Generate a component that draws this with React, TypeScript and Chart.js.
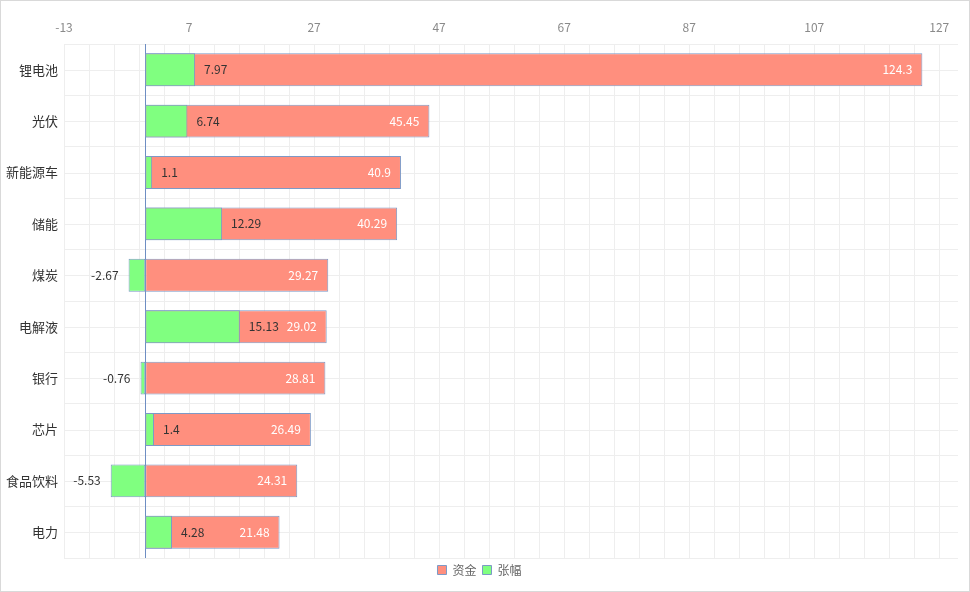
import React, { useEffect, useRef } from "react";
import { Chart, registerables } from "chart.js";

Chart.register(...registerables);

const CATEGORIES = ["锂电池", "光伏", "新能源车", "储能", "煤炭", "电解液", "银行", "芯片", "食品饮料", "电力"];
const FUNDS = [124.3, 45.45, 40.9, 40.29, 29.27, 29.02, 28.81, 26.49, 24.31, 21.48];
const CHANGES = [7.97, 6.74, 1.1, 12.29, -2.67, 15.13, -0.76, 1.4, -5.53, 4.28];
const TICK_LABELS = [-13, 7, 27, 47, 67, 87, 107, 127];
const AXIS_MIN = -13;
const AXIS_MAX = 130;
const MINOR_STEP = 4;

const FONT = "'Noto Sans CJK SC', 'Noto Sans', sans-serif";
const RED = "#FF8F7E";
const GREEN = "#80FF80";
const BORDER = "#7D99C6";
const GRID = "#EEEEEE";

const extrasPlugin = {
  id: "extras",
  beforeDatasetsDraw(chart: any) {
    const { ctx, chartArea, scales } = chart;
    const y = scales.y;
    const x = scales.x;
    ctx.save();
    ctx.strokeStyle = GRID;
    ctx.lineWidth = 1;
    for (let i = 0; i < CATEGORIES.length; i++) {
      const py = Math.round(y.getPixelForValue(i)) + 0.5;
      ctx.beginPath();
      ctx.moveTo(chartArea.left, py);
      ctx.lineTo(chartArea.right, py);
      ctx.stroke();
    }
    const zx = Math.round(x.getPixelForValue(0)) + 0.5;
    ctx.strokeStyle = "#6E8EC3";
    ctx.beginPath();
    ctx.moveTo(zx, chartArea.top);
    ctx.lineTo(zx, chartArea.bottom);
    ctx.stroke();
    ctx.restore();
  },
  afterDatasetsDraw(chart: any) {
    const { ctx } = chart;
    ctx.save();
    ctx.font = `12px ${FONT}`;
    ctx.textBaseline = "middle";
    const redMeta = chart.getDatasetMeta(0);
    const greenMeta = chart.getDatasetMeta(1);
    redMeta.data.forEach((el: any, i: number) => {
      ctx.fillStyle = "#FFFFFF";
      ctx.textAlign = "right";
      ctx.fillText(String(FUNDS[i]), el.x - 10, el.y);
    });
    greenMeta.data.forEach((el: any, i: number) => {
      const v = CHANGES[i];
      ctx.fillStyle = "#333333";
      if (v >= 0) {
        ctx.textAlign = "left";
        ctx.fillText(String(v), el.x + 9, el.y);
      } else {
        ctx.textAlign = "right";
        ctx.fillText(String(v), el.x - 10, el.y);
      }
    });
    ctx.restore();
  },
};

export default function App() {
  const canvasRef = useRef<HTMLCanvasElement | null>(null);

  useEffect(() => {
    if (!canvasRef.current) return;
    const chart = new Chart(canvasRef.current, {
      type: "bar",
      data: {
        labels: CATEGORIES,
        datasets: [
          {
            label: "资金",
            data: FUNDS,
            backgroundColor: RED,
            borderColor: BORDER,
            borderWidth: 1,
            borderSkipped: false,
            grouped: false,
            order: 1,
            barPercentage: 0.64,
            categoryPercentage: 1,
          } as any,
          {
            label: "张幅",
            data: CHANGES,
            backgroundColor: GREEN,
            borderColor: BORDER,
            borderWidth: 1,
            borderSkipped: false,
            grouped: false,
            order: 0,
            barPercentage: 0.64,
            categoryPercentage: 1,
          } as any,
        ],
      },
      options: {
        indexAxis: "y",
        animation: false,
        responsive: false,
        maintainAspectRatio: false,
        layout: { padding: { left: 0, right: 11, top: 0, bottom: 5 } },
        plugins: {
          tooltip: { enabled: false },
          legend: {
            position: "bottom",
            labels: {
              boxWidth: 9,
              boxHeight: 9,
              padding: 6,
              color: "#666666",
              font: { size: 12, family: FONT },
              sort: (a: any, b: any) => a.datasetIndex - b.datasetIndex,
            },
          },
        },
        scales: {
          x: {
            type: "linear",
            position: "top",
            min: AXIS_MIN,
            max: AXIS_MAX,
            afterBuildTicks: (scale: any) => {
              const ticks: any[] = [];
              for (let v = AXIS_MIN; v <= AXIS_MAX; v += MINOR_STEP) ticks.push({ value: v });
              scale.ticks = ticks;
            },
            afterFit: (scale: any) => {
              scale.height = 43;
            },
            ticks: {
              autoSkip: false,
              maxRotation: 0,
              padding: 9,
              color: "#8A8A8A",
              font: { size: 12, family: FONT },
              callback: (value: any) => (TICK_LABELS.includes(Number(value)) ? String(value) : ""),
            },
            grid: { color: GRID, drawTicks: false },
            border: { display: false },
          },
          y: {
            type: "category",
            afterFit: (scale: any) => {
              scale.width = 63;
            },
            ticks: {
              padding: 6,
              color: "#333333",
              font: { size: 13, family: FONT },
            },
            grid: { color: GRID, drawTicks: false, offset: true },
            border: { display: false },
          },
        },
      } as any,
      plugins: [extrasPlugin],
    });
    return () => chart.destroy();
  }, []);

  return (
    <div
      style={{
        position: "fixed",
        left: 0,
        top: 0,
        width: 970,
        height: 592,
        boxSizing: "border-box",
        border: "1px solid #D9D9D9",
        background: "#FFFFFF",
      }}
    >
      <canvas ref={canvasRef} width={968} height={590} style={{ display: "block" }} />
    </div>
  );
}
